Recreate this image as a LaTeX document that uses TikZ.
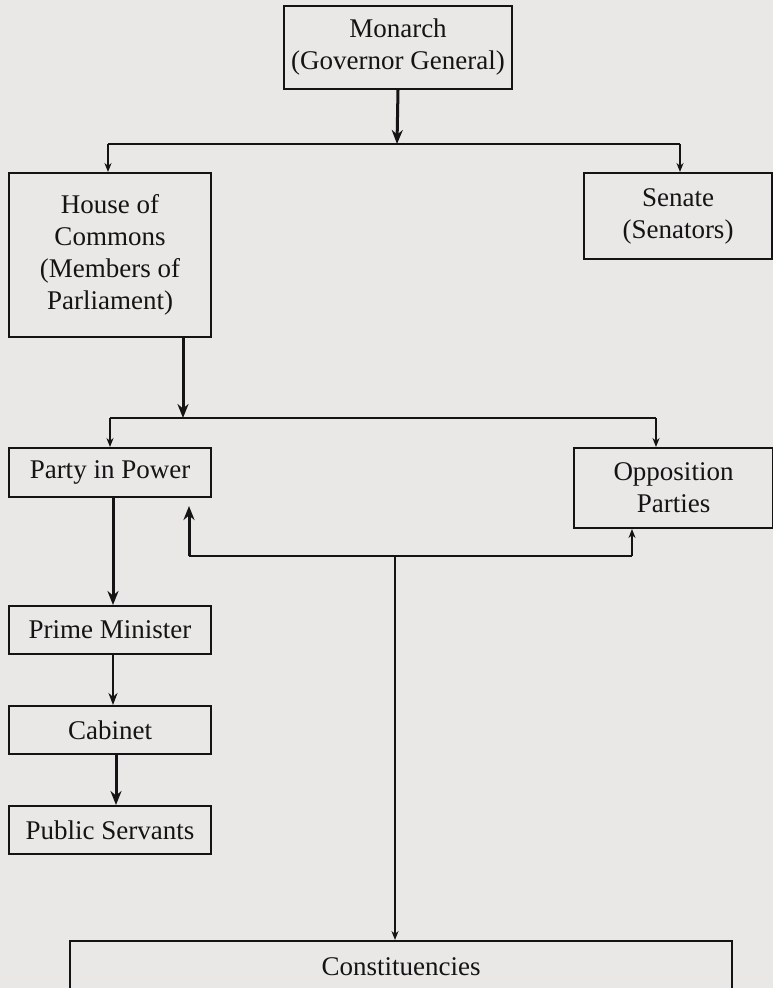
\documentclass[tikz,border=0pt]{standalone}
\usepackage{fontspec}
\setmainfont{Liberation Serif}
\usetikzlibrary{arrows.meta}
\definecolor{paper}{RGB}{234,232,230}
\definecolor{ink}{RGB}{20,20,20}
\tikzset{
  box/.style={draw=ink, line width=2pt, align=center, inner sep=0pt,
    anchor=north west, text=ink, font=\fontsize{27}{32}\selectfont},
  conn/.style={draw=ink, line width=1.8pt},
  thinarrow/.style={conn, -{Stealth[length=9pt,width=7pt]}},
  midarrow/.style={draw=ink, line width=2.4pt, -{Stealth[length=12pt,width=9pt]}},
  thickarrow/.style={draw=ink, line width=3pt, -{Stealth[length=14pt,width=11pt]}},
}
\begin{document}
\begin{tikzpicture}[x=1pt,y=-1pt]
  \clip (0,0) rectangle (773,988);
  \fill[paper] (0,0) rectangle (773,988);

  % boxes, placed by their top-left corners
  \node[box, minimum width=228pt, minimum height=83pt] (monarch) at (283,5)
    {Monarch\\(Governor General)};
  \node[box, minimum width=202pt, minimum height=164pt] (hoc) at (8,172)
    {House of\\Commons\\(Members of\\Parliament)};
  \node[box, minimum width=188pt, minimum height=86pt] (senate) at (583,172)
    {Senate\\(Senators)};
  \node[box, minimum width=202pt, minimum height=49pt] (party) at (8,447)
    {Party in Power};
  \node[box, minimum width=199pt, minimum height=80pt] (opp) at (573,447)
    {Opposition\\Parties};
  \node[box, minimum width=202pt, minimum height=48pt] (pm) at (8,605)
    {Prime Minister};
  \node[box, minimum width=202pt, minimum height=48pt] (cab) at (8,705)
    {Cabinet};
  \node[box, minimum width=202pt, minimum height=48pt] (ps) at (8,805)
    {Public Servants};
  \node[box, minimum width=662pt, minimum height=52pt] (const) at (69,940)
    {Constituencies};

  % junction points of the branching connectors
  \coordinate (j1)  at (397,144);
  \coordinate (j1L) at (108,144);
  \coordinate (j1R) at (680,144);
  \coordinate (j2)  at (183,418);
  \coordinate (j2L) at (110,418);
  \coordinate (j2R) at (656,418);
  \coordinate (j3)  at (395,556);
  \coordinate (j3L) at (189,556);
  \coordinate (j3R) at (632,556);
  \coordinate (colA) at (113,0);
  \coordinate (colB) at (116,0);

  % Monarch to both houses
  \draw[thickarrow] (monarch.south) -- (j1);
  \draw[conn] (j1L) -- (j1R);
  \draw[thinarrow] (j1L) -- (j1L |- hoc.north);
  \draw[thinarrow] (j1R) -- (j1R |- senate.north);

  % House of Commons to the parties
  \draw[thickarrow] (j2 |- hoc.south) -- (j2);
  \draw[conn] (j2L) -- (j2R);
  \draw[thinarrow] (j2L) -- (j2L |- party.north);
  \draw[thinarrow] (j2R) -- (j2R |- opp.north);

  % executive chain
  \draw[thickarrow] (colA |- party.south) -- (colA |- pm.north);
  \draw[midarrow] (colA |- pm.south) -- (colA |- cab.north);
  \draw[thickarrow] (colB |- cab.south) -- (colB |- ps.north);

  % constituencies and the parties
  \draw[conn] (j3L) -- (j3R);
  \draw[thickarrow, shorten >=8pt] (j3L) -- (j3L |- party.south);
  \draw[thinarrow] (j3R) -- (j3R |- opp.south);
  \draw[thinarrow] (j3) -- (j3 |- const.north);
\end{tikzpicture}
\end{document}
